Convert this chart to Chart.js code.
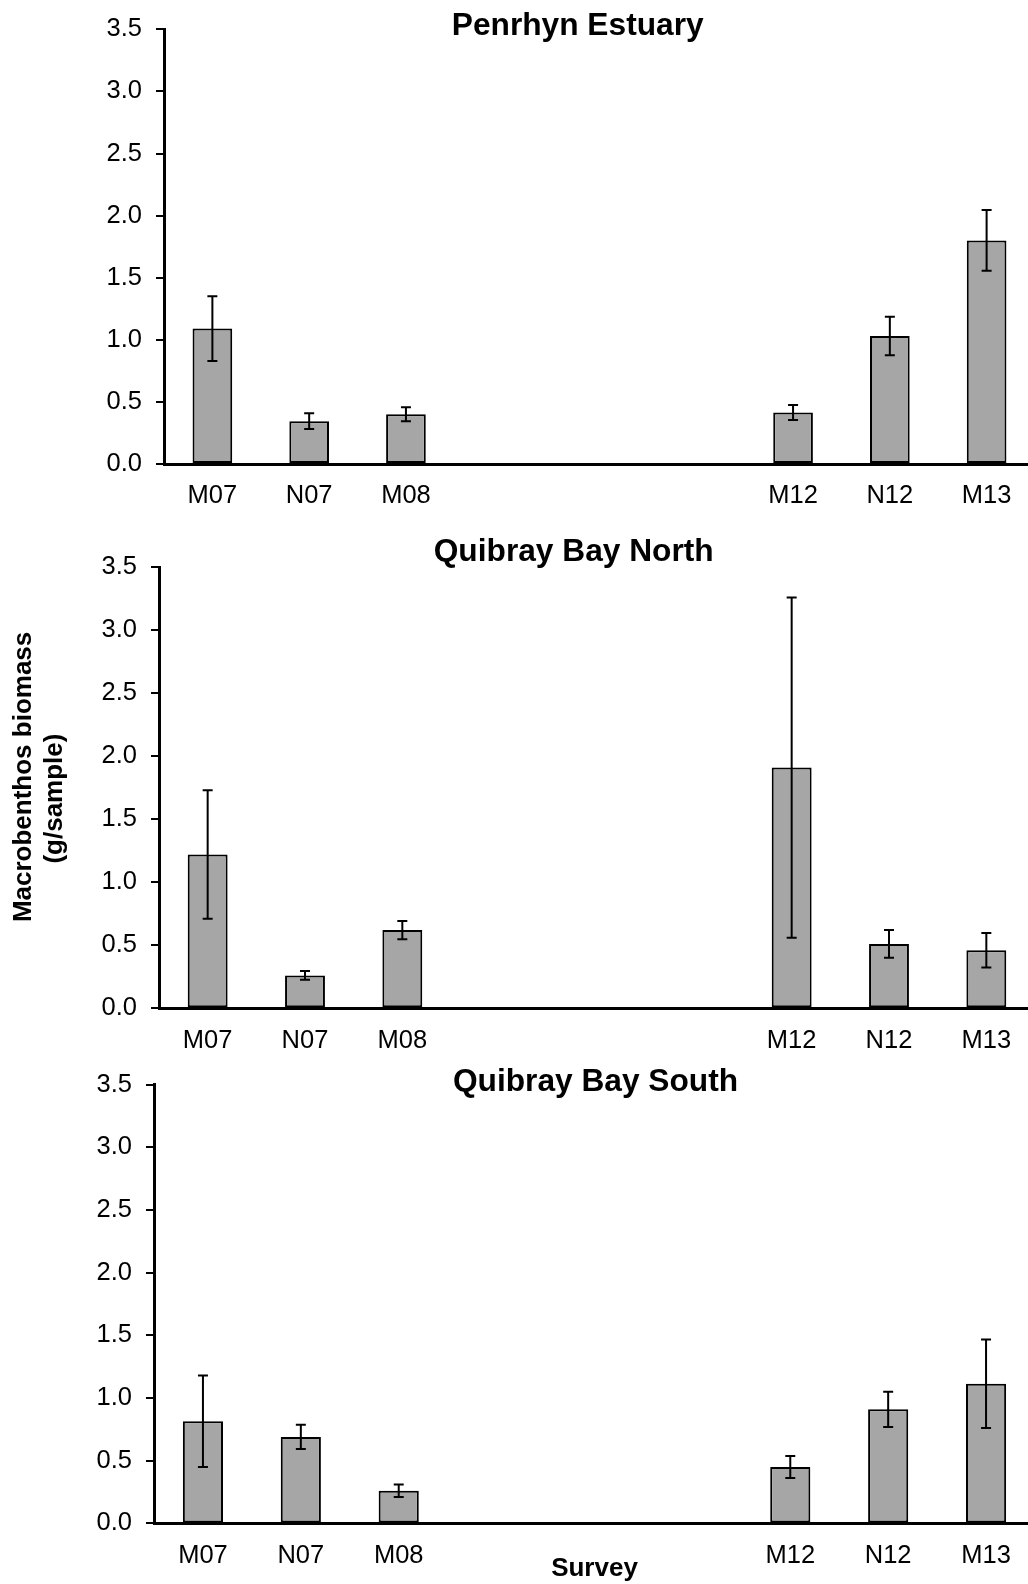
<!DOCTYPE html>
<html>
<head>
<meta charset="utf-8">
<title>Macrobenthos biomass by survey</title>
<script src="https://cdn.jsdelivr.net/npm/chart.js@4.4.1/dist/chart.umd.min.js"></script>
<style>
  html, body { margin: 0; padding: 0; background: #fff; }
  body { position: relative; width: 1028px; height: 1584px; overflow: hidden; }
  canvas { position: absolute; left: 0; }
</style>
</head>
<body>
<canvas id="penrhynChart" width="1035" height="520" style="top:0px"></canvas>
<canvas id="northChart" width="1035" height="540" style="top:520px"></canvas>
<canvas id="southChart" width="1035" height="534" style="top:1050px"></canvas>
<script>
// Surveys (May/Nov 2007-2008, then 2012-2013); the blank slots keep the gap between periods
const surveys = ['M07', 'N07', 'M08', '', '', '', 'M12', 'N12', 'M13'];
const yTicks = [0, 0.5, 1.0, 1.5, 2.0, 2.5, 3.0, 3.5];

// mean biomass (g/sample) and standard error per survey
const penrhynMeans = [1.09, 0.345, 0.40, null, null, null, 0.415, 1.03, 1.80];
const penrhynErrors = [0.26, 0.064, 0.056, null, null, null, 0.06, 0.155, 0.245];

const northMeans = [1.22, 0.26, 0.62, null, null, null, 1.91, 0.51, 0.46];
const northErrors = [0.51, 0.035, 0.072, null, null, null, 1.35, 0.11, 0.137];

const southMeans = [0.815, 0.69, 0.26, null, null, null, 0.45, 0.91, 1.115];
const southErrors = [0.365, 0.097, 0.05, null, null, null, 0.088, 0.141, 0.353];

const FONT = '"Liberation Sans", Arial, Helvetica, sans-serif';
Chart.defaults.font.family = FONT;
Chart.defaults.color = '#000';

// whiskers with caps, drawn on top of the bars
const errorBars = {
    id: 'errorBars',
    afterDatasetsDraw(chart) {
        const { ctx } = chart;
        const dataset = chart.data.datasets[0];
        const yScale = chart.scales.y;
        ctx.save();
        ctx.strokeStyle = '#000';
        ctx.lineWidth = 2;
        chart.getDatasetMeta(0).data.forEach((bar, i) => {
            const value = dataset.data[i];
            const err = dataset.errors[i];
            if (value == null || err == null) return;
            const top = yScale.getPixelForValue(value + err);
            const bottom = yScale.getPixelForValue(value - err);
            ctx.beginPath();
            ctx.moveTo(bar.x, top);
            ctx.lineTo(bar.x, bottom);
            ctx.moveTo(bar.x - 5, top);
            ctx.lineTo(bar.x + 5, top);
            ctx.moveTo(bar.x - 5, bottom);
            ctx.lineTo(bar.x + 5, bottom);
            ctx.stroke();
        });
        ctx.restore();
    }
};

// site name sits inside the top of the plot, so it is drawn after layout
const panelTitle = {
    id: 'panelTitle',
    afterDraw(chart, args, options) {
        const { ctx, chartArea } = chart;
        ctx.save();
        ctx.font = 'bold 31.7px ' + FONT;
        ctx.fillStyle = '#000';
        ctx.textAlign = 'center';
        ctx.textBaseline = 'middle';
        ctx.fillText(options.text, options.x, chartArea.top + options.dy);
        ctx.restore();
    }
};

function makePanel(canvasId, means, errors, cfg) {
    const ctx = document.getElementById(canvasId).getContext('2d');
    return new Chart(ctx, {
        type: 'bar',
        data: {
            labels: surveys,
            datasets: [{
                data: means,
                errors: errors,
                backgroundColor: '#a6a6a6',
                borderColor: '#000',
                borderWidth: 2,
                borderSkipped: false,
                barPercentage: 0.41,
                categoryPercentage: 1.0
            }]
        },
        options: {
            responsive: false,
            animation: false,
            devicePixelRatio: 1,
            layout: {
                padding: { top: cfg.padTop, bottom: cfg.padBottom, left: 0, right: 0 }
            },
            plugins: {
                legend: { display: false },
                tooltip: { enabled: false },
                panelTitle: { text: cfg.title, x: cfg.titleX, dy: cfg.titleDy }
            },
            scales: {
                x: {
                    z: 1,
                    offset: true,
                    grid: { display: false, drawTicks: false },
                    border: { display: true, color: '#000', width: 3 },
                    ticks: { font: { size: 25.5 }, color: '#000', padding: 17, maxRotation: 0, autoSkip: false },
                    title: {
                        display: !!cfg.xTitle,
                        text: cfg.xTitle || '',
                        font: { size: 26, weight: 'bold' },
                        color: '#000',
                        padding: { top: 0, bottom: 0 }
                    },
                    afterFit(scale) { scale.height = cfg.xHeight; }
                },
                y: {
                    min: 0,
                    max: 3.5,
                    afterBuildTicks(scale) { scale.ticks = yTicks.map(v => ({ value: v })); },
                    grid: { drawOnChartArea: false, drawTicks: true, tickLength: 8, color: '#000', lineWidth: 2 },
                    border: { display: true, color: '#000', width: 3 },
                    ticks: {
                        font: { size: 25.5 },
                        color: '#000',
                        padding: 14,
                        callback: v => Number(v).toFixed(1)
                    },
                    title: {
                        display: !!cfg.yTitle,
                        text: cfg.yTitle || '',
                        font: { size: 26, weight: 'bold' },
                        color: '#000',
                        padding: { top: 8, bottom: 0 }
                    },
                    afterFit(scale) { scale.width = cfg.axisX; }
                }
            }
        },
        plugins: [errorBars, panelTitle]
    });
}

makePanel('penrhynChart', penrhynMeans, penrhynErrors, {
    title: 'Penrhyn Estuary', titleX: 577.7, titleDy: -3,
    axisX: 164, padTop: 26, padBottom: 6, xHeight: 50
});

makePanel('northChart', northMeans, northErrors, {
    title: 'Quibray Bay North', titleX: 573.7, titleDy: -15.5,
    axisX: 159, padTop: 47.3, padBottom: 6.8, xHeight: 45,
    // the two lines of the axis label are staggered slightly
    yTitle: ['   Macrobenthos biomass', '(g/sample)   ']
});

makePanel('southChart', southMeans, southErrors, {
    title: 'Quibray Bay South', titleX: 595.5, titleDy: -2.7,
    axisX: 154, padTop: 34.7, padBottom: 0, xHeight: 60.6,
    xTitle: 'Survey'
});
</script>
</body>
</html>
